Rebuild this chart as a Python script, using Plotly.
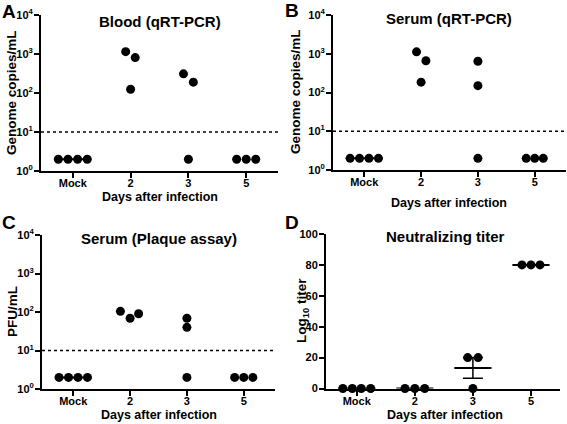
import numpy as np
import plotly.graph_objects as go

# ---------------- data ----------------
categories = ["Mock", "2", "3", "5"]

# Panel A: Blood (qRT-PCR), genome copies/mL
blood_qpcr = [[2, 2, 2, 2], [1150, 125, 810], [310, 2, 190], [2, 2, 2]]
# Panel B: Serum (qRT-PCR), genome copies/mL
serum_qpcr = [[2, 2, 2, 2], [1120, 185, 660], [640, 150, 2], [2, 2, 2]]
# Panel C: Serum (plaque assay), PFU/mL
serum_plaque = [[2, 2, 2, 2], [104, 69, 90], [69, 40, 2], [2, 2, 2]]
# Panel D: Neutralizing titer
neut_titer = [[0, 0, 0, 0], [0, 0, 0], [20, 0, 20], [80, 80, 80]]

detection_limit = 10
log_tickvals = [1, 10, 100, 1000, 10000]
log_ticktext = ["10<sup>0</sup>", "10<sup>1</sup>", "10<sup>2</sup>", "10<sup>3</sup>", "10<sup>4</sup>"]
lin_tickvals = [0, 20, 40, 60, 80, 100]

# ---------------- style ----------------
FONT = "Liberation Sans, Arial, Helvetica, sans-serif"
W, H = 567, 424

jit_A = [[-0.25, -0.083, 0.083, 0.25], [-0.085, 0, 0.08], [-0.085, 0, 0.085], [-0.165, 0, 0.165]]
jit_B = [[-0.25, -0.083, 0.083, 0.25], [-0.08, 0, 0.085], [0, 0, 0], [-0.15, 0, 0.15]]
jit_C = [[-0.25, -0.083, 0.083, 0.25], [-0.17, 0, 0.15], [0, 0, 0], [-0.16, 0, 0.16]]
jit_D = [[-0.24, -0.077, 0.077, 0.24], [-0.17, 0, 0.17], [-0.09, 0, 0.09], [-0.155, 0, 0.155]]


def px_dom(a, b):
    return [a / W, b / W]


def py_dom(top, bottom):
    return [1 - bottom / H, 1 - top / H]


panels = {
    "A": dict(x=px_dom(41, 278), y=py_dom(15, 171), rng=[-0.55, 3.55]),
    "B": dict(x=px_dom(333, 566), y=py_dom(15, 170), rng=[-0.55, 3.55]),
    "C": dict(x=px_dom(42, 275), y=py_dom(235, 389), rng=[-0.55, 3.55]),
    "D": dict(x=px_dom(326, 560), y=py_dom(234, 388.5), rng=[-0.53, 3.5]),
}

fig = go.Figure()

axis_common = dict(showgrid=False, zeroline=False, showline=True, linecolor="black",
                   linewidth=2, ticks="outside", ticklen=5, tickwidth=2, tickcolor="black",
                   automargin=False,
                   tickfont=dict(family=FONT, size=11, color="black", weight="bold"))


def add_points(data, jit, xa, ya):
    xs, ys = [], []
    for i, grp in enumerate(data):
        for j, v in enumerate(grp):
            xs.append(i + jit[i][j])
            ys.append(v)
    fig.add_trace(go.Scatter(x=xs, y=ys, mode="markers", xaxis=xa, yaxis=ya,
                             marker=dict(size=9, color="black"), cliponaxis=False,
                             showlegend=False, hoverinfo="skip"))


def add_mean_lines(data, groups, xa, ya, half=0.32):
    xs, ys = [], []
    for i in groups:
        m = float(np.mean(data[i]))
        xs += [i - half, i + half, None]
        ys += [m, m, None]
    fig.add_trace(go.Scatter(x=xs, y=ys, mode="lines", xaxis=xa, yaxis=ya,
                             line=dict(color="black", width=2), cliponaxis=False,
                             showlegend=False, hoverinfo="skip"))


def add_limit(xa, ya, rng):
    fig.add_trace(go.Scatter(x=rng, y=[detection_limit, detection_limit], mode="lines",
                             xaxis=xa, yaxis=ya, line=dict(color="black", width=1.5, dash="dot"),
                             showlegend=False, hoverinfo="skip"))


log_panels = [("A", blood_qpcr, jit_A, "x", "y"),
              ("B", serum_qpcr, jit_B, "x2", "y2"),
              ("C", serum_plaque, jit_C, "x3", "y3")]

for name, data, jit, xa, ya in log_panels:
    p = panels[name]
    add_limit(xa, ya, p["rng"])
    add_mean_lines(data, [0], xa, ya)
    add_points(data, jit, xa, ya)

# Panel D
means_D = [float(np.mean(g)) for g in neut_titer]
sem_D = [float(np.std(g, ddof=1) / np.sqrt(len(g))) for g in neut_titer]
add_mean_lines(neut_titer, [0, 1, 2, 3], "x4", "y4")
fig.add_trace(go.Scatter(x=[2], y=[means_D[2]], mode="markers", xaxis="x4", yaxis="y4",
                         marker=dict(size=1, color="rgba(0,0,0,0)"),
                         error_y=dict(type="data", array=[sem_D[2]], visible=True,
                                      color="black", thickness=1.5, width=10),
                         showlegend=False, hoverinfo="skip"))
add_points(neut_titer, jit_D, "x4", "y4")

layout = dict(width=W, height=H, margin=dict(l=0, r=0, t=0, b=0, pad=0, autoexpand=False),
              paper_bgcolor="white", plot_bgcolor="white", showlegend=False)

names = ["A", "B", "C", "D"]
for k, name in enumerate(names):
    p = panels[name]
    sx = "" if k == 0 else str(k + 1)
    layout["xaxis" + sx] = dict(domain=p["x"], range=p["rng"], anchor="y" + sx,
                                tickmode="array", tickvals=[0, 1, 2, 3], ticktext=categories,
                                ticklabelstandoff=-4, **axis_common)
    if name == "D":
        layout["yaxis" + sx] = dict(domain=p["y"], range=[0, 100], anchor="x" + sx,
                                    tickmode="array", tickvals=lin_tickvals,
                                    ticklabelstandoff=-1, **axis_common)
    else:
        layout["yaxis" + sx] = dict(domain=p["y"], type="log", range=[0, 4], anchor="x" + sx,
                                    tickmode="array", tickvals=log_tickvals,
                                    ticktext=log_ticktext, ticklabelstandoff=-1, **axis_common)

fig.update_layout(**layout)


def ann(text, x, y, size, angle=0):
    fig.add_annotation(text=text, x=x / W, y=1 - y / H, xref="paper", yref="paper",
                       showarrow=False, textangle=angle, xanchor="center", yanchor="middle",
                       font=dict(family=FONT, size=size, color="black", weight="bold"))


# panel letters
ann("A", 9, 12, 19)
ann("B", 292, 11, 19)
ann("C", 9, 222, 19)
ann("D", 292, 222, 19)

# titles
ann("Blood (qRT-PCR)", 160, 21, 15)
ann("Serum (qRT-PCR)", 449, 19, 15)
ann("Serum (Plaque assay)", 159, 239, 15)
ann("Neutralizing titer", 445, 236, 15)

# x axis titles
ann("Days after infection", 160, 197, 12.5)
ann("Days after infection", 449, 203, 12.5)
ann("Days after infection", 159, 415, 12.5)
ann("Days after infection", 445, 415, 12.5)

# y axis titles
ann("Genome copies/mL", 12, 93, 13.5, -90)
ann("Genome copies/mL", 295, 92, 13.5, -90)
ann("PFU/mL", 12, 312, 13.5, -90)
ann("Log<sub>10</sub> titer", 302, 311, 13.5, -90)

fig.write_html("out.html", config={"displayModeBar": False, "staticPlot": True},
               post_script="document.body.style.margin='0px';document.body.style.overflow='hidden';")
